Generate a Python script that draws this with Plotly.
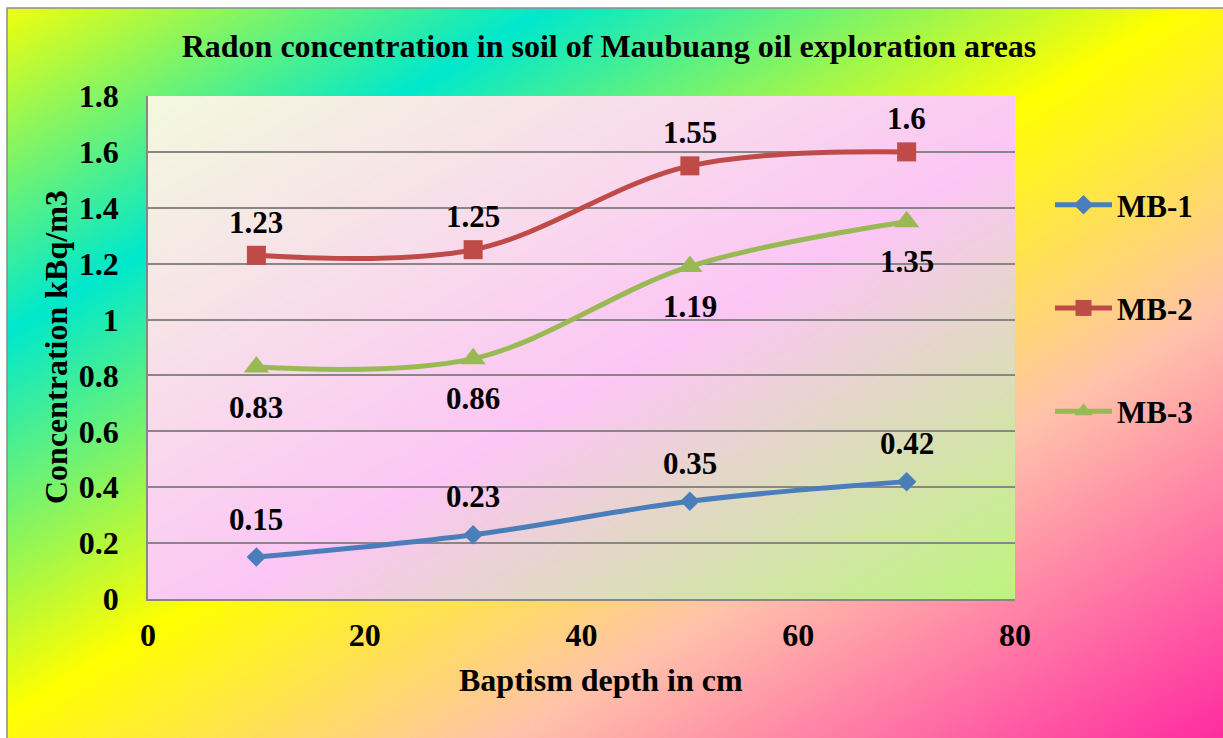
import base64
import struct
import zlib

import numpy as np
import plotly.graph_objects as go

# ---- data -------------------------------------------------------------
depth_cm = [10, 30, 50, 70]
mb1 = [0.15, 0.23, 0.35, 0.42]
mb2 = [1.23, 1.25, 1.55, 1.6]
mb3 = [0.83, 0.86, 1.19, 1.35]
series_names = ["MB-1", "MB-2", "MB-3"]

x_tick_vals = [0, 20, 40, 60, 80]
y_tick_vals = [0, 0.2, 0.4, 0.6, 0.8, 1.0, 1.2, 1.4, 1.6, 1.8]
y_tick_text = ["0", "0.2", "0.4", "0.6", "0.8", "1", "1.2", "1.4", "1.6", "1.8"]

# ---- layout geometry (pixels) ----------------------------------------
W, H = 1223, 738
L, R, T, B = 148, 1015, 96, 599
PW, PH = R - L, B - T


def fx(px):
    return (px - L) / PW


def fy(py):
    return (B - py) / PH


# ---- gradient backgrounds as inline PNGs ------------------------------
def png_data_uri(rgb):
    h, w, _ = rgb.shape
    raw = b"".join(b"\x00" + rgb[r].tobytes() for r in range(h))

    def chunk(tag, data):
        return (struct.pack(">I", len(data)) + tag + data
                + struct.pack(">I", zlib.crc32(tag + data) & 0xFFFFFFFF))

    png = (b"\x89PNG\r\n\x1a\n"
           + chunk(b"IHDR", struct.pack(">IIBBBBB", w, h, 8, 2, 0, 0, 0))
           + chunk(b"IDAT", zlib.compress(raw, 9))
           + chunk(b"IEND", b""))
    return "data:image/png;base64," + base64.b64encode(png).decode()


def diagonal_gradient(w, h, stops):
    u = (np.arange(w)[None, :] / (w - 1) + np.arange(h)[:, None] / (h - 1)) / 2
    pos = [s[0] for s in stops]
    out = np.zeros((h, w, 3))
    for c in range(3):
        out[..., c] = np.interp(u, pos, [s[1][c] for s in stops])
    return out.round().astype(np.uint8)


chart_stops = [
    (0.00, (238, 255, 15)),
    (0.22, (0, 232, 205)),
    (0.48, (255, 255, 0)),
    (0.70, (255, 195, 170)),
    (1.00, (255, 40, 160)),
]
plot_stops = [
    (0.00, (243, 249, 222)),
    (0.55, (252, 198, 245)),
    (1.00, (188, 245, 125)),
]

chart_bg = png_data_uri(diagonal_gradient(408, 246, chart_stops))
plot_bg = png_data_uri(diagonal_gradient(289, 168, plot_stops))

# ---- figure -------------------------------------------------------------
FONT = "Liberation Serif, Times New Roman, serif"
colors = ["#4A7EBB", "#BE4B48", "#98B954"]
symbols = ["diamond", "square", "triangle-up"]
marker_sizes = [15, 19, 22]
label_shift = [38, 33, -40]

fig = go.Figure()
for name, vals, col, sym, ms in zip(series_names, [mb1, mb2, mb3], colors, symbols, marker_sizes):
    fig.add_trace(go.Scatter(
        x=depth_cm, y=vals, name=name, legendgroup=name,
        mode="lines+markers",
        line=dict(color=col, width=5, shape="spline", smoothing=1),
        marker=dict(symbol=sym, size=ms, color=col),
    ))

annotations = []
for vals, dy in zip([mb1, mb2, mb3], label_shift):
    for xv, yv in zip(depth_cm, vals):
        annotations.append(dict(
            x=xv, y=yv, xref="x", yref="y", text=f"{yv:g}", showarrow=False,
            yshift=dy, font=dict(family=FONT, size=31, color="black", weight="bold"),
        ))

annotations.append(dict(
    x=fx(56), y=fy(347), xref="paper", yref="paper", text="Concentration kBq/m3",
    textangle=-90, showarrow=False, xanchor="center", yanchor="middle",
    font=dict(family=FONT, size=32, color="black", weight="bold"),
))
annotations.append(dict(
    x=fx(601), y=fy(680), xref="paper", yref="paper", text="Baptism depth in cm",
    showarrow=False, xanchor="center", yanchor="middle",
    font=dict(family=FONT, size=32, color="black", weight="bold"),
))

fig.update_layout(
    width=W, height=H,
    margin=dict(l=L, r=W - R, t=T, b=H - B, pad=0),
    paper_bgcolor="white",
    plot_bgcolor="rgba(0,0,0,0)",
    title=dict(
        text="Radon concentration in soil of Maubuang oil exploration areas",
        xref="container", yref="container", x=609 / W, y=1 - 46 / H,
        xanchor="center", yanchor="middle",
        font=dict(family=FONT, size=32, color="black", weight="bold"),
    ),
    xaxis=dict(
        range=[0, 80], tickvals=x_tick_vals, ticks="", showgrid=False,
        zeroline=False, showline=True, linecolor="#878787", linewidth=1.5,
        ticklabelstandoff=7,
        tickfont=dict(family=FONT, size=32, color="black", weight="bold"),
    ),
    yaxis=dict(
        range=[0, 1.8], tickvals=y_tick_vals, ticktext=y_tick_text, ticks="",
        showgrid=True, gridcolor="#878787", gridwidth=1.5,
        zeroline=False, showline=True, linecolor="#878787", linewidth=1.5,
        ticklabelstandoff=21,
        tickfont=dict(family=FONT, size=32, color="black", weight="bold"),
    ),
    legend=dict(
        x=fx(1050), y=fy(178), xanchor="left", yanchor="top",
        bgcolor="rgba(0,0,0,0)", borderwidth=0,
        traceorder="grouped", tracegroupgap=60, itemwidth=57,
        font=dict(family=FONT, size=31, color="black", weight="bold"),
    ),
    images=[
        dict(source=chart_bg, xref="paper", yref="paper",
             x=fx(7), y=fy(8), sizex=1223 / PW, sizey=737 / PH,
             xanchor="left", yanchor="top", sizing="stretch", layer="below"),
        dict(source=plot_bg, xref="paper", yref="paper",
             x=0, y=1, sizex=1, sizey=1,
             xanchor="left", yanchor="top", sizing="stretch", layer="below"),
    ],
    shapes=[
        dict(type="rect", xref="paper", yref="paper",
             x0=fx(7), y0=fy(8), x1=fx(1260), y1=fy(780),
             line=dict(color="#8C8C8C", width=1.5), fillcolor="rgba(0,0,0,0)",
             layer="below"),
    ],
    annotations=annotations,
    showlegend=True,
)

fig.write_html("out.html")
